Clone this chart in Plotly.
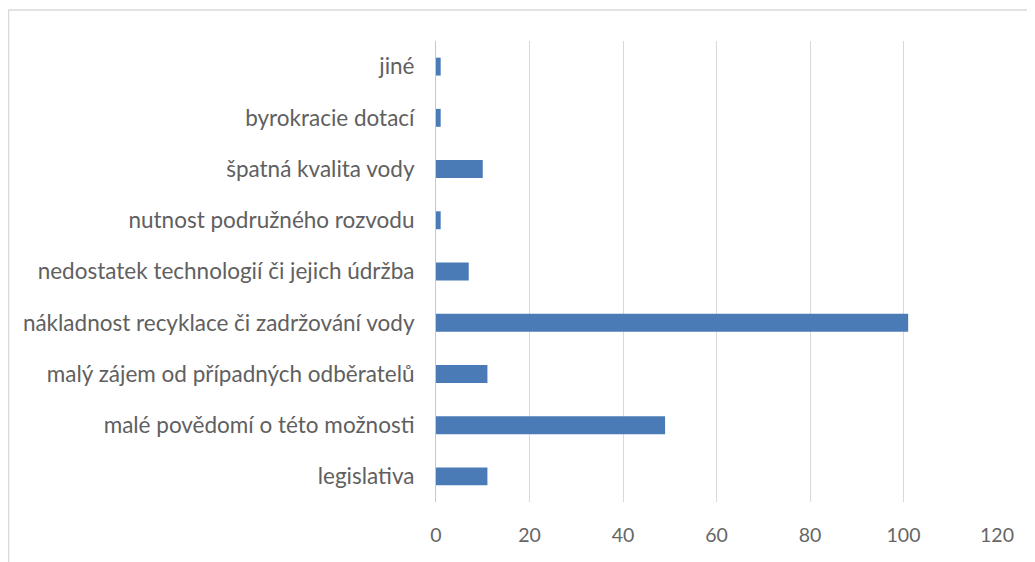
import plotly.graph_objects as go

categories = [
    "legislativa",
    "malé povědomí o této možnosti",
    "malý zájem od případných odběratelů",
    "nákladnost recyklace či zadržování vody",
    "nedostatek technologií či jejich údržba",
    "nutnost podružného rozvodu",
    "špatná kvalita vody",
    "byrokracie dotací",
    "jiné",
]
values = [11, 49, 11, 101, 7, 1, 10, 1, 1]
x_ticks = [0, 20, 40, 60, 80, 100, 120]

# page body has an 8px margin, so the figure is sized/placed accordingly
W, H = 1027, 554
L, R, T, B = 428, 38, 33, 60
pw, ph = W - L - R, H - T - B

fig = go.Figure(go.Bar(
    x=values, y=categories, orientation="h",
    marker=dict(color="#4a7bb6", line=dict(width=0)),
))

ytxt = dict(family="Lato, 'Open Sans', sans-serif", size=22.5, color="#606060")
xtxt = dict(family="Lato, 'Open Sans', sans-serif", size=19.5, color="#666666")

fig.update_layout(
    width=W, height=H,
    margin=dict(l=L, r=R, t=T, b=B, autoexpand=False),
    paper_bgcolor="white", plot_bgcolor="white",
    bargap=0.65,
    showlegend=False,
    font=ytxt,
    xaxis=dict(range=[0, 120], tickvals=x_ticks, showgrid=True, gridcolor="#d9d9d9",
               gridwidth=1, zeroline=False, showline=False, ticks="", automargin=False,
               tickfont=xtxt, ticklabelstandoff=19),
    yaxis=dict(showgrid=False, showline=True, linecolor="#c8c8c8", linewidth=1,
               ticks="", tickfont=ytxt, ticklabelstandoff=16, zeroline=False,
               automargin=False),
)

# light outer frame of the chart area (cropped at right and bottom)
x0 = (0.5 - L) / pw
y1 = 1 + (T - 2) / ph
fig.add_shape(type="rect", xref="paper", yref="paper",
              x0=x0, x1=(W + 20 - L) / pw, y0=-(B + 20) / ph, y1=y1,
              line=dict(color="#d9d9d9", width=1.5), fillcolor="rgba(0,0,0,0)", layer="below")

fig.write_html("out.html")
